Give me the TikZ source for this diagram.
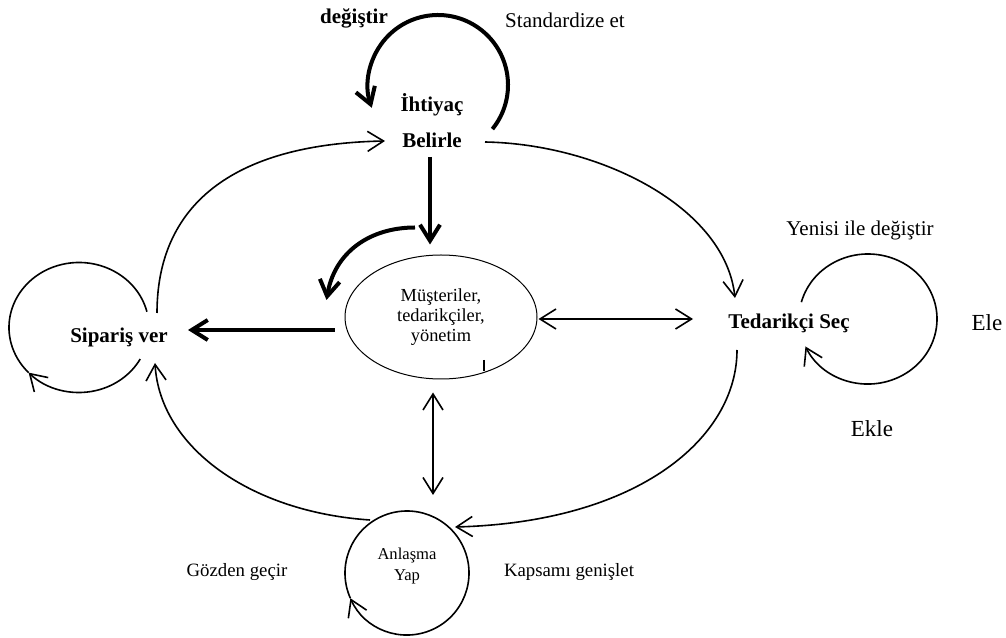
\documentclass[tikz,border=0pt]{standalone}
\usepackage{fontspec}
\setmainfont{Liberation Serif}
\usetikzlibrary{arrows.meta,calc,shapes.geometric}

\begin{document}
\begin{tikzpicture}[x=0.5pt, y=0.5pt, >={Straight Barb[length=8pt,width=10pt]}]
            \tikzstyle{every node} = [inner sep=2pt]
            \tikzstyle{boldlabel} = [font=\fontsize{10.5}{12}\selectfont\bfseries]
            \tikzstyle{plainlabel} = [font=\fontsize{10.5}{12}\selectfont]
            \tikzstyle{smalllabel} = [font=\fontsize{9.4}{11}\selectfont]
            \tikzstyle{biglabel} = [font=\fontsize{11.5}{13}\selectfont]
            \tikzstyle{thinline} = [line width=0.8pt]
            \tikzstyle{thickline} = [line width=2pt]
            \useasboundingbox (0,0) rectangle (1006,637);

            \node[boldlabel] (degistir) at (354,619) {değiştir};
            \node[plainlabel] (standart) at (565,617) {Standardize et};
            \node[boldlabel] (ihtiyac) at (432,532) {İhtiyaç};
            \node[boldlabel] (belirle) at (432,497) {Belirle};
            \node[boldlabel] (siparis) at (119,300) {Sipariş ver};
            \node[boldlabel] (tedarikci) at (789,314) {Tedarikçi Seç};
            \node[plainlabel] (yenisi) at (860,407) {Yenisi ile değiştir};
            \node[biglabel] (ele) at (987,314) {Ele};
            \node[biglabel] (ekle) at (872,208) {Ekle};
            \node[draw, ellipse, line width=0.5pt, minimum width=96pt, minimum height=62pt,
                align=center, font=\fontsize{9.2}{10}\selectfont] (musteri) at (441,320)
                {Müşteriler,\\tedarikçiler,\\yönetim};
            \node[align=center, font=\fontsize{8.3}{10.5}\selectfont] (anlasma) at (407,71) {Anlaşma\\Yap};
            \node[smalllabel] (gozden) at (237,65) {Gözden geçir};
            \node[smalllabel] (kapsam) at (569,65) {Kapsamı genişlet};

            % loops
            \draw[thickline, ->] ($(ihtiyac)+(6,20)+(-39:70)$) arc[start angle=-39, end angle=199, radius=70];
            \draw[thinline, <-] ($(siparis)+(-40,9.5)+(-136:70 and 65)$)
                arc[start angle=-136, end angle=-29, x radius=70, y radius=65];
            \draw[thinline] ($(siparis)+(-40,9.5)+(14:70 and 65)$)
                arc[start angle=14, end angle=224, x radius=70, y radius=65];
            \draw[thinline, <-] ($(tedarikci)+(79,4)+(-155:69 and 65)$)
                arc[start angle=-155, end angle=165, x radius=69, y radius=65];
            \draw[thinline, <-] ($(anlasma)+(0,-7)+(-156:62)$) arc[start angle=-156, end angle=204, radius=62];

            % outer cycle
            \draw[thinline, ->] ($(siparis)+(38,24)$) .. controls +(0,106) and +(-155,-3) .. ($(belirle)+(-47,-1)$);
            \draw[thinline, ->] ($(belirle)+(53,-2)$) .. controls +(115,-2) and +(-10,91) .. ($(tedarikci)+(-54,25)$);
            \draw[thinline, ->] ($(tedarikci)+(-52,-27)$) .. controls +(0,-87) and +(185,5) .. ($(anlasma)+(48,39)$);
            \draw[thinline, ->] ($(anlasma)+(-37,46)$) .. controls +(-120,8) and +(5,-84) .. ($(siparis)+(36,-26)$);

            % centre
            \draw[thinline, <->] ($(musteri.east)+(1,-2)$) -- ($(tedarikci)+(-96,4)$);
            \draw[thinline, <->] ($(musteri.south)+(-8,-13)$) -- ($(anlasma)+(26,71)$);
            \draw[thickline, ->] ($(belirle)+(-2,-17)$) -- ($(musteri.north)+(-11,10)$);
            \draw[thickline, ->] ($(musteri.north)+(-26,27)$) .. controls +(-45,0) and +(8,48) .. ($(musteri.west)+(-18,17)$);
            \draw[thickline, ->] ($(musteri.west)+(-10,-13)$) -- ($(siparis)+(69,7)$);
            \draw[line width=0.6pt] ($(musteri)+(43,-43)$) -- ++(0,-11);
\end{tikzpicture}
\end{document}
